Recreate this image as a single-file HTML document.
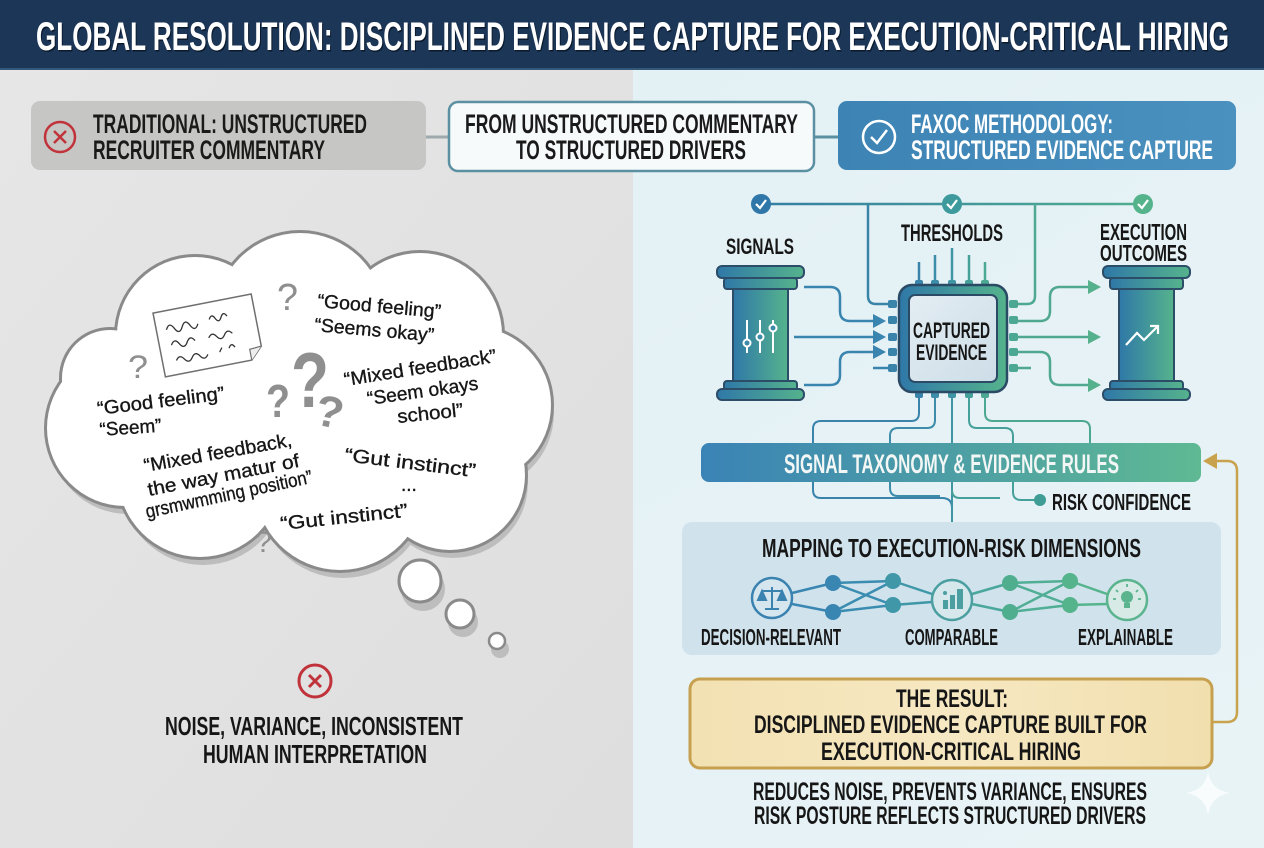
<!DOCTYPE html>
<html><head><meta charset="utf-8"><style>
html,body{margin:0;padding:0;width:1264px;height:848px;overflow:hidden;background:#e4f1f5}
svg{display:block}
.h{font-family:"Liberation Sans","DejaVu Sans",sans-serif;font-weight:bold}
.w{font-family:"Liberation Sans","DejaVu Sans",sans-serif;fill:#161616;stroke:#161616;stroke-width:0.35}
</style></head><body>
<svg width="1264" height="848" viewBox="0 0 1264 848" xmlns="http://www.w3.org/2000/svg">
<defs>
<linearGradient id="gbg" x1="0" y1="0" x2="1" y2="1"><stop offset="0" stop-color="#e6e6e6"/><stop offset="1" stop-color="#dedede"/></linearGradient>
<linearGradient id="gbr" x1="0" y1="0" x2="1" y2="1"><stop offset="0" stop-color="#e2f0f4"/><stop offset="1" stop-color="#e8f3f6"/></linearGradient>
<linearGradient id="gbg2" x1="0" y1="0" x2="1" y2="0"><stop offset="0" stop-color="#2f78a8"/><stop offset="1" stop-color="#55b38c"/></linearGradient>
<linearGradient id="gus" gradientUnits="userSpaceOnUse" x1="700" y1="0" x2="1200" y2="0"><stop offset="0" stop-color="#2f78a8"/><stop offset="1" stop-color="#55b38c"/></linearGradient>
<linearGradient id="gbar" x1="0" y1="0" x2="1" y2="0"><stop offset="0" stop-color="#3a83b6"/><stop offset="1" stop-color="#5fb993"/></linearGradient>
<linearGradient id="ginner" x1="0" y1="0" x2="1" y2="1"><stop offset="0" stop-color="#e3edf3"/><stop offset="1" stop-color="#cddde7"/></linearGradient>
<linearGradient id="gres" x1="0" y1="0" x2="1" y2="0"><stop offset="0" stop-color="#f2e1b2"/><stop offset="0.5" stop-color="#f6e8c2"/><stop offset="1" stop-color="#f1dfae"/></linearGradient>
<linearGradient id="gright" x1="0" y1="0" x2="1" y2="0"><stop offset="0" stop-color="#3d84b5"/><stop offset="1" stop-color="#4a91bf"/></linearGradient>
</defs>

<!-- backgrounds -->
<rect x="0" y="0" width="1264" height="848" fill="url(#gbr)"/>
<rect x="0" y="70" width="633" height="778" fill="url(#gbg)"/>
<rect x="0" y="0" width="1264" height="70" fill="#1c3658"/>
<rect x="0" y="68" width="1264" height="2" fill="#34587a"/>
<text class="h" x="37" y="51.5" font-size="40" fill="#0b1a2c" textLength="1193" lengthAdjust="spacingAndGlyphs">GLOBAL RESOLUTION: DISCIPLINED EVIDENCE CAPTURE FOR EXECUTION-CRITICAL HIRING</text>
<text class="h" x="36" y="50" font-size="40" fill="#ffffff" textLength="1193" lengthAdjust="spacingAndGlyphs">GLOBAL RESOLUTION: DISCIPLINED EVIDENCE CAPTURE FOR EXECUTION-CRITICAL HIRING</text>

<!-- top boxes -->
<line x1="426" y1="137" x2="449" y2="137" stroke="#9ea9ad" stroke-width="3"/>
<line x1="814" y1="137" x2="838" y2="137" stroke="#5b90a3" stroke-width="3"/>
<rect x="31" y="101" width="395" height="69" rx="9" fill="#c6c6c4"/>
<circle cx="60" cy="137" r="15" fill="none" stroke="#c1333b" stroke-width="2.5"/>
<path d="M54,131 L66,143 M66,131 L54,143" stroke="#c1333b" stroke-width="2.5"/>
<text class="h" x="93" y="133" font-size="27" fill="#1a1a1a" textLength="274" lengthAdjust="spacingAndGlyphs">TRADITIONAL: UNSTRUCTURED</text>
<text class="h" x="93" y="159" font-size="27" fill="#1a1a1a" textLength="232" lengthAdjust="spacingAndGlyphs">RECRUITER COMMENTARY</text>

<rect x="449" y="102" width="365" height="69" rx="9" fill="#f7fafb" stroke="#5b90a3" stroke-width="2.5"/>
<text class="h" x="465" y="133" font-size="27" fill="#1a1a1a" textLength="333" lengthAdjust="spacingAndGlyphs">FROM UNSTRUCTURED COMMENTARY</text>
<text class="h" x="516" y="159" font-size="27" fill="#1a1a1a" textLength="230" lengthAdjust="spacingAndGlyphs">TO STRUCTURED DRIVERS</text>

<rect x="838" y="101" width="398" height="69" rx="9" fill="url(#gright)"/>
<circle cx="879" cy="137" r="16" fill="none" stroke="#fff" stroke-width="2.5"/>
<path d="M871,137 L877,143 L887,130" fill="none" stroke="#fff" stroke-width="2.5"/>
<text class="h" x="911" y="133" font-size="27" fill="#ffffff" textLength="202" lengthAdjust="spacingAndGlyphs">FAXOC METHODOLOGY:</text>
<text class="h" x="911" y="159" font-size="27" fill="#ffffff" textLength="302" lengthAdjust="spacingAndGlyphs">STRUCTURED EVIDENCE CAPTURE</text>

<!-- cloud -->
<g fill="#bdbdbd" transform="translate(3,8)">
<circle cx="195" cy="335" r="78"/><circle cx="300" cy="318" r="85"/><circle cx="420" cy="335" r="82"/><circle cx="473" cy="405" r="78"/><circle cx="450" cy="475" r="75"/><circle cx="340" cy="485" r="85"/><circle cx="200" cy="475" r="82"/><circle cx="125" cy="428" r="78"/><circle cx="310" cy="405" r="110"/><circle cx="110" cy="378" r="48"/>
<circle cx="420" cy="581" r="22"/><circle cx="460" cy="614" r="15"/><circle cx="497" cy="641" r="9"/>
</g>
<g fill="#8a8a8a">
<circle cx="195" cy="335" r="81"/><circle cx="300" cy="318" r="88"/><circle cx="420" cy="335" r="85"/><circle cx="473" cy="405" r="81"/><circle cx="450" cy="475" r="78"/><circle cx="340" cy="485" r="88"/><circle cx="200" cy="475" r="85"/><circle cx="125" cy="428" r="81"/><circle cx="310" cy="405" r="113"/><circle cx="110" cy="378" r="51"/>
</g>
<g fill="#ffffff">
<circle cx="195" cy="335" r="78"/><circle cx="300" cy="318" r="85"/><circle cx="420" cy="335" r="82"/><circle cx="473" cy="405" r="78"/><circle cx="450" cy="475" r="75"/><circle cx="340" cy="485" r="85"/><circle cx="200" cy="475" r="82"/><circle cx="125" cy="428" r="78"/><circle cx="310" cy="405" r="110"/><circle cx="110" cy="378" r="48"/>
</g>
<circle cx="420" cy="581" r="21" fill="#fff" stroke="#8a8a8a" stroke-width="3"/>
<circle cx="460" cy="614" r="14" fill="#fff" stroke="#8a8a8a" stroke-width="3"/>
<circle cx="497" cy="641" r="8" fill="#fff" stroke="#8a8a8a" stroke-width="2.5"/>

<!-- note card -->
<g transform="rotate(-11,208,334)">
<path d="M158,303 H258 V356 L246,368 H158 Z" fill="#fff" stroke="#6f6f6f" stroke-width="1.5"/>
<path d="M258,356 L246,357 L246,368" fill="#eee" stroke="#6f6f6f" stroke-width="1.2"/>
<path d="M168,322 q4,-8 8,0 t8,0 t8,0 t8,0 M212,320 q3,-6 6,0 t6,0 t6,0 M170,338 q4,-7 8,0 t8,0 t8,0 M208,338 q4,-6 8,0 t8,0 t8,0 M172,354 q4,-6 8,0 t8,0 t8,0 t8,0 M216,354 l3,-4 M226,352 q3,-6 6,0" fill="none" stroke="#333" stroke-width="1.3"/>
</g>

<!-- question marks -->
<g class="h" fill="#8f8f8f">
<text x="291" y="407" font-size="78" textLength="38" lengthAdjust="spacingAndGlyphs">?</text>
<text x="266" y="417" font-size="46" textLength="24" lengthAdjust="spacingAndGlyphs">?</text>
<text x="316" y="427" font-size="44" textLength="28" lengthAdjust="spacingAndGlyphs" transform="rotate(12,330,410)">?</text>
<text x="277" y="310" font-size="38" textLength="21" lengthAdjust="spacingAndGlyphs" font-weight="normal">?</text>
<text x="128" y="378" font-size="32" textLength="20" lengthAdjust="spacingAndGlyphs" font-weight="normal">?</text>
<text x="255" y="552" font-size="30" textLength="17" lengthAdjust="spacingAndGlyphs" font-weight="normal">?</text>
</g>

<!-- handwritten -->
<g class="w" font-size="19">
<text x="317" y="307" textLength="124" lengthAdjust="spacingAndGlyphs" transform="rotate(5,317,307)">“Good feeling”</text>
<text x="314" y="331" textLength="120" lengthAdjust="spacingAndGlyphs" transform="rotate(5,314,331)">“Seems okay”</text>
<text x="345" y="386" textLength="154" lengthAdjust="spacingAndGlyphs" transform="rotate(-9,345,386)">“Mixed feedback”</text>
<text x="368" y="405" textLength="112" lengthAdjust="spacingAndGlyphs" transform="rotate(-8,368,405)">“Seem okays</text>
<text x="398" y="423" textLength="66" lengthAdjust="spacingAndGlyphs" transform="rotate(-6,398,423)">school”</text>
<text x="98" y="415" textLength="128" lengthAdjust="spacingAndGlyphs" transform="rotate(-7,98,415)">“Good feeling”</text>
<text x="100" y="436" textLength="62" lengthAdjust="spacingAndGlyphs" transform="rotate(-4,100,436)">“Seem”</text>
<text x="145" y="472" textLength="150" lengthAdjust="spacingAndGlyphs" transform="rotate(-10,145,472)">“Mixed feedback,</text>
<text x="149" y="496" textLength="154" lengthAdjust="spacingAndGlyphs" transform="rotate(-11,149,496)">the way matur of</text>
<text x="147" y="518" textLength="170" lengthAdjust="spacingAndGlyphs" transform="rotate(-12,147,518)">grsmwmming position”</text>
<text x="344" y="461" textLength="132" lengthAdjust="spacingAndGlyphs" transform="rotate(7,344,461)">“Gut instinct”</text>
<text x="401" y="491">...</text>
<text x="281" y="530" textLength="128" lengthAdjust="spacingAndGlyphs" transform="rotate(-6,281,530)">“Gut instinct”</text>
</g>

<!-- bottom left -->
<circle cx="315" cy="681" r="16" fill="none" stroke="#c1333b" stroke-width="3"/>
<path d="M309,675 L321,687 M321,675 L309,687" stroke="#c1333b" stroke-width="3"/>
<text class="h" x="165" y="735" font-size="26" fill="#161616" textLength="298" lengthAdjust="spacingAndGlyphs">NOISE, VARIANCE, INCONSISTENT</text>
<text class="h" x="203" y="763" font-size="26" fill="#161616" textLength="224" lengthAdjust="spacingAndGlyphs">HUMAN INTERPRETATION</text>

<!-- ===== RIGHT DIAGRAM ===== -->
<path d="M761,204 H1143" stroke="url(#gus)" stroke-width="2.5" fill="none"/>
<path d="M868,204 V296 Q868,304 876,304 H893" stroke="#3a84a8" stroke-width="2.5" fill="none"/>
<path d="M1035,204 V296 Q1035,304 1027,304 H1010" stroke="#4fa894" stroke-width="2.5" fill="none"/>
<circle cx="761" cy="204" r="10" fill="#2e77a8"/>
<circle cx="952" cy="204" r="10" fill="#3d9a9c"/>
<circle cx="1143" cy="204" r="10" fill="#55b38c"/>
<g fill="none" stroke="#fff" stroke-width="2.2"><path d="M756,204 L760,208 L766,200"/><path d="M947,204 L951,208 L957,200"/><path d="M1138,204 L1142,208 L1148,200"/></g>

<text class="h" x="726" y="254" font-size="22" fill="#161616" textLength="68" lengthAdjust="spacingAndGlyphs">SIGNALS</text>
<text class="h" x="901" y="241" font-size="24" fill="#161616" textLength="102" lengthAdjust="spacingAndGlyphs">THRESHOLDS</text>
<text class="h" x="1100" y="240" font-size="23" fill="#161616" textLength="87" lengthAdjust="spacingAndGlyphs">EXECUTION</text>
<text class="h" x="1100" y="261" font-size="23" fill="#161616" textLength="87" lengthAdjust="spacingAndGlyphs">OUTCOMES</text>

<!-- top pins -->
<g stroke-width="2.5" fill="none">
<path d="M919,262 V285" stroke="#3a84ac"/><path d="M935,255 V285" stroke="#3c8caa"/><path d="M952,248 V285" stroke="#3f95a4"/><path d="M969,255 V285" stroke="#45a09a"/><path d="M985,262 V285" stroke="#4ca892"/>
</g>
<g>
<rect x="915" y="280" width="8" height="9" rx="2" fill="#3a84ac"/><rect x="931" y="280" width="8" height="9" rx="2" fill="#3c8caa"/><rect x="948" y="280" width="8" height="9" rx="2" fill="#3f95a4"/><rect x="965" y="280" width="8" height="9" rx="2" fill="#45a09a"/><rect x="981" y="280" width="8" height="9" rx="2" fill="#4ca892"/>
<rect x="915" y="389" width="8" height="9" rx="2" fill="#3a84ac"/><rect x="931" y="389" width="8" height="9" rx="2" fill="#3c8caa"/><rect x="948" y="389" width="8" height="9" rx="2" fill="#3f95a4"/><rect x="965" y="389" width="8" height="9" rx="2" fill="#45a09a"/><rect x="981" y="389" width="8" height="9" rx="2" fill="#4ca892"/>
<rect x="888" y="300" width="9" height="8" rx="2" fill="#3a84ac"/><rect x="888" y="316" width="9" height="8" rx="2" fill="#3a84ac"/><rect x="888" y="333" width="9" height="8" rx="2" fill="#3a84ac"/><rect x="888" y="348" width="9" height="8" rx="2" fill="#3a84ac"/><rect x="888" y="364" width="9" height="8" rx="2" fill="#3a84ac"/>
<rect x="1009" y="300" width="9" height="8" rx="2" fill="#4ca892"/><rect x="1009" y="316" width="9" height="8" rx="2" fill="#4ca892"/><rect x="1009" y="333" width="9" height="8" rx="2" fill="#4ca892"/><rect x="1009" y="348" width="9" height="8" rx="2" fill="#4ca892"/><rect x="1009" y="364" width="9" height="8" rx="2" fill="#4ca892"/>
</g>

<!-- chip -->
<rect x="899" y="285" width="108" height="107" rx="13" fill="url(#gbg2)" stroke="#2a4a66" stroke-width="2.5"/>
<rect x="909" y="295" width="88" height="87" rx="6" fill="url(#ginner)" stroke="#2a4a66" stroke-width="2"/>
<text class="h" x="913" y="338" font-size="22" fill="#161616" textLength="77" lengthAdjust="spacingAndGlyphs">CAPTURED</text>
<text class="h" x="916" y="360" font-size="22" fill="#161616" textLength="71" lengthAdjust="spacingAndGlyphs">EVIDENCE</text>

<!-- left arrows -->
<g stroke="#3a84b0" stroke-width="2.5" fill="none">
<path d="M804,287 H830 Q840,287 840,297 V311 Q840,321 850,321 H876"/>
<path d="M794,337 H876"/>
<path d="M804,385 H830 Q840,385 840,375 V362 Q840,352 850,352 H876"/>
<path d="M873,368 H889"/>
</g>
<g fill="#3a84b0"><path d="M886,321 L873,314 L873,328 Z"/><path d="M886,337 L873,330 L873,344 Z"/><path d="M886,352 L873,345 L873,359 Z"/></g>
<!-- right arrows -->
<g stroke="#4fa88f" stroke-width="2.5" fill="none">
<path d="M1017,321 H1040 Q1050,321 1050,311 V297 Q1050,287 1060,287 H1090"/>
<path d="M1017,337 H1090"/>
<path d="M1017,352 H1040 Q1050,352 1050,362 V375 Q1050,385 1060,385 H1090"/>
<path d="M1017,368 H1031"/>
</g>
<g fill="#55b08c"><path d="M1101,287 L1088,280 L1088,294 Z"/><path d="M1101,337 L1088,330 L1088,344 Z"/><path d="M1101,385 L1088,378 L1088,392 Z"/></g>

<!-- pillars -->
<g stroke="#2c4d68" stroke-width="2" fill="url(#gbg2)">
<rect x="717" y="266" width="87" height="12" rx="5"/><rect x="724" y="278" width="73" height="11" rx="3"/><rect x="733" y="289" width="55" height="92"/><rect x="724" y="381" width="73" height="9" rx="3"/><rect x="717" y="389" width="87" height="11" rx="5"/>
<rect x="1103" y="266" width="87" height="12" rx="5"/><rect x="1110" y="278" width="73" height="11" rx="3"/><rect x="1119" y="289" width="55" height="92"/><rect x="1110" y="381" width="73" height="9" rx="3"/><rect x="1103" y="389" width="87" height="11" rx="5"/>
</g>
<g stroke="#fff" stroke-width="2" fill="#3d8aa8">
<path d="M747,320 V353 M760,320 V353 M773,320 V353"/>
<circle cx="747" cy="343" r="3.5"/><circle cx="760" cy="337" r="3.5"/><circle cx="773" cy="328" r="3.5"/>
</g>
<g stroke="#fff" stroke-width="2.2" fill="none"><path d="M1126,345 L1137,333 L1144,340 L1158,326"/><path d="M1150,326 H1158 V334"/></g>

<!-- bottom wires -->
<g stroke="#4a93a8" stroke-width="2" fill="none">
<path d="M919,398 V413 Q919,421 911,421 H821 Q813,421 813,429 V443" stroke="#3a84ac"/>
<path d="M935,398 V420 Q935,428 927,428 H898 Q890,428 890,436 V443" stroke="#3c8caa"/>
<path d="M952,398 V443" stroke="#3f95a4"/>
<path d="M969,398 V420 Q969,428 977,428 H1005 Q1013,428 1013,436 V443" stroke="#45a09a"/>
<path d="M985,398 V413 Q985,421 993,421 H1082 Q1090,421 1090,429 V443" stroke="#4ca892"/>
<path d="M813,482 V490 Q813,498 821,498 H942 Q952,498 952,508" stroke="#3a84ac"/>
<path d="M890,482 V488 Q890,496 898,496 H940" stroke="#3c8caa"/>
<path d="M952,482 V522" stroke="#3f95a4"/>
<path d="M952,490 Q952,498 960,498 H1000" stroke="#45a09a"/>
<path d="M1013,482 V492 Q1013,500 1021,500 H1040" stroke="#45a09a"/>
</g>
<circle cx="1040" cy="500" r="6" fill="#3f9d95"/>

<!-- taxonomy bar -->
<rect x="701" y="443" width="500" height="39" rx="8" fill="url(#gbar)"/>
<text class="h" x="784" y="473" font-size="27" fill="#f2f7f6" textLength="335" lengthAdjust="spacingAndGlyphs">SIGNAL TAXONOMY &amp; EVIDENCE RULES</text>
<text class="h" x="1052" y="510" font-size="23" fill="#161616" textLength="139" lengthAdjust="spacingAndGlyphs">RISK CONFIDENCE</text>

<!-- gold arrow -->
<path d="M1212,722 H1227 Q1237,722 1237,712 V471 Q1237,461 1227,461 H1214" stroke="#c9a24e" stroke-width="2.5" fill="none"/>
<path d="M1203,461 L1217,453 L1217,469 Z" fill="#c9a24e"/>

<!-- mapping box -->
<rect x="682" y="522" width="539" height="133" rx="10" fill="#d0e2ec"/>
<text class="h" x="762" y="557" font-size="26" fill="#161616" textLength="379" lengthAdjust="spacingAndGlyphs">MAPPING TO EXECUTION-RISK DIMENSIONS</text>
<g stroke-width="2.5" fill="none">
<path d="M792,593 L833,583 M792,604 L833,612" stroke="#3a86b3"/>
<path d="M833,583 L893,581 M833,583 L893,605 M833,612 L893,581 M833,612 L893,605" stroke="#3a8db0"/>
<path d="M893,581 L932,594 M893,605 L932,602" stroke="#3f97a8"/>
<path d="M972,594 L1010,583 M972,604 L1010,612" stroke="#4aa79c"/>
<path d="M1010,583 L1070,581 M1010,583 L1070,605 M1010,612 L1070,581 M1010,612 L1070,605" stroke="#4fae94"/>
<path d="M1070,581 L1107,594 M1070,605 L1107,604" stroke="#55b48c"/>
</g>
<g>
<circle cx="833" cy="583" r="8" fill="#3a86b3"/><circle cx="833" cy="612" r="8" fill="#3a86b3"/>
<circle cx="893" cy="581" r="8" fill="#3f97a8"/><circle cx="893" cy="605" r="8" fill="#3f97a8"/>
<circle cx="1010" cy="583" r="8" fill="#4fae8e"/><circle cx="1010" cy="612" r="8" fill="#4fae8e"/>
<circle cx="1070" cy="581" r="8" fill="#55b48c"/><circle cx="1070" cy="605" r="8" fill="#55b48c"/>
</g>
<circle cx="772" cy="598" r="20" fill="#d6e6ee" stroke="#3a82b0" stroke-width="2.5"/>
<circle cx="952" cy="600" r="20" fill="#d6e8ec" stroke="#4b9fa0" stroke-width="2.5"/>
<circle cx="1127" cy="600" r="20" fill="#d8eae6" stroke="#5ab48e" stroke-width="2.5"/>
<!-- scale icon -->
<g stroke="#3a82b0" stroke-width="2" fill="none">
<path d="M772,587 V609 M765,609 H779 M762,591 H782"/>
<path d="M762,591 L758,600 H766 Z M782,591 L778,600 H786 Z" fill="#3a82b0"/>
</g>
<!-- bar chart icon -->
<g fill="#4b9fa0"><rect x="943" y="600" width="5" height="9"/><rect x="950" y="595" width="5" height="14"/><rect x="957" y="589" width="6" height="20"/><circle cx="945" cy="593" r="2"/></g>
<!-- bulb icon -->
<g fill="#5ab48e" stroke="#5ab48e"><circle cx="1127" cy="597" r="6" stroke="none"/><rect x="1124" y="603" width="6" height="5" stroke="none"/><path d="M1127,584 V587 M1116,590 L1118,592 M1138,590 L1136,592 M1113,599 H1116 M1138,599 H1141" stroke-width="1.8" fill="none"/></g>

<text class="h" x="701" y="645" font-size="23" fill="#161616" textLength="140" lengthAdjust="spacingAndGlyphs">DECISION-RELEVANT</text>
<text class="h" x="905" y="645" font-size="23" fill="#161616" textLength="93" lengthAdjust="spacingAndGlyphs">COMPARABLE</text>
<text class="h" x="1078" y="645" font-size="23" fill="#161616" textLength="95" lengthAdjust="spacingAndGlyphs">EXPLAINABLE</text>

<!-- result -->
<rect x="690" y="679" width="522" height="89" rx="10" fill="url(#gres)" stroke="#c6a04f" stroke-width="3"/>
<text class="h" x="896" y="707" font-size="25" fill="#161616" textLength="112" lengthAdjust="spacingAndGlyphs">THE RESULT:</text>
<text class="h" x="754" y="733" font-size="25" fill="#161616" textLength="393" lengthAdjust="spacingAndGlyphs">DISCIPLINED EVIDENCE CAPTURE BUILT FOR</text>
<text class="h" x="821" y="760" font-size="25" fill="#161616" textLength="260" lengthAdjust="spacingAndGlyphs">EXECUTION-CRITICAL HIRING</text>
<text class="h" x="753" y="800" font-size="25" fill="#161616" textLength="394" lengthAdjust="spacingAndGlyphs">REDUCES NOISE, PREVENTS VARIANCE, ENSURES</text>
<text class="h" x="754" y="824" font-size="25" fill="#161616" textLength="392" lengthAdjust="spacingAndGlyphs">RISK POSTURE REFLECTS STRUCTURED DRIVERS</text>

<!-- sparkle -->
<path d="M1208,772 Q1211,790 1230,793 Q1211,796 1208,815 Q1205,796 1186,793 Q1205,790 1208,772 Z" fill="#ffffff" opacity="0.75"/>
</svg>
</body></html>
